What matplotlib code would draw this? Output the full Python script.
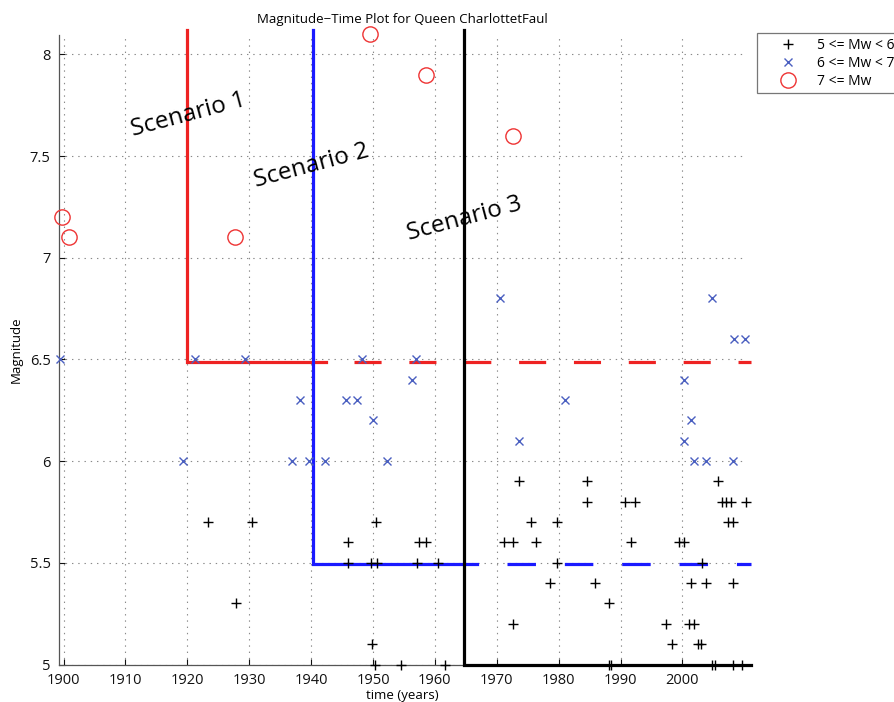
import matplotlib
matplotlib.use("Agg")
import matplotlib.pyplot as plt

plt.rcParams['font.family'] = ['Open Sans', 'DejaVu Sans']
plt.rcParams['lines.scale_dashes'] = False

# Earthquake catalogue: 5 <= Mw < 6
plus_years = [1923.3, 1930.5, 1927.8, 1945.9, 1945.9, 1949.7, 1950.7, 1950.5, 1949.8,
              1950.4, 1954.5, 1957.5, 1958.5, 1957.1, 1960.5, 1961.7, 1971.2, 1972.7,
              1972.7, 1973.6, 1975.5, 1976.3, 1978.6, 1979.7, 1979.8, 1984.6, 1984.6,
              1985.9, 1988.1, 1988.1, 1988.4, 1990.7, 1991.7, 1992.4, 1997.3, 1998.3,
              1999.4, 2000.2, 2001.05, 2001.4, 2001.9, 2002.45, 2003.0, 2003.1, 2003.75,
              2004.8, 2005.2, 2005.7, 2006.4, 2007.1, 2007.3, 2007.9, 2008.1, 2008.2,
              2008.2, 2009.6, 2010.2]
plus_mags = [5.7, 5.7, 5.3, 5.6, 5.5, 5.5, 5.5, 5.7, 5.1,
             5.0, 5.0, 5.6, 5.6, 5.5, 5.5, 5.0, 5.6, 5.6,
             5.2, 5.9, 5.7, 5.6, 5.4, 5.7, 5.5, 5.9, 5.8,
             5.4, 5.3, 5.0, 5.0, 5.8, 5.6, 5.8, 5.2, 5.1,
             5.6, 5.6, 5.2, 5.4, 5.2, 5.1, 5.1, 5.5, 5.4,
             5.0, 5.0, 5.9, 5.8, 5.8, 5.7, 5.8, 5.7, 5.4,
             5.0, 5.0, 5.8]

# 6 <= Mw < 7
cross_years = [1899.5, 1919.3, 1921.2, 1929.3, 1936.9, 1938.2, 1939.7, 1942.2, 1945.6,
               1947.4, 1948.2, 1949.95, 1952.2, 1956.25, 1956.9, 1970.6, 1973.6, 1981.0,
               2000.2, 2000.2, 2001.35, 2001.9, 2003.75, 2004.7, 2008.2, 2008.3, 2010.1]
cross_mags = [6.5, 6.0, 6.5, 6.5, 6.0, 6.3, 6.0, 6.0, 6.3,
              6.3, 6.5, 6.2, 6.0, 6.4, 6.5, 6.8, 6.1, 6.3,
              6.4, 6.1, 6.2, 6.0, 6.0, 6.8, 6.0, 6.6, 6.6]

# 7 <= Mw
circle_years = [1899.7, 1900.9, 1927.7, 1949.5, 1958.6, 1972.6]
circle_mags = [7.2, 7.1, 7.1, 8.1, 7.9, 7.6]

# Scenario boundaries: (start year, magnitude threshold, end of solid part, start of dashed part)
scen1 = dict(year=1920.0, mag=6.485, solid_end=1942.4, dash_start=1946.9)
scen2 = dict(year=1940.3, mag=5.495, solid_end=1966.8, dash_start=1971.6)
scen3_year = 1964.7
line_top = 8.12
line_right = 2011.0

xticks = [1900, 1910, 1920, 1930, 1940, 1950, 1960, 1970, 1980, 1990, 2000]
yticks = [5, 5.5, 6, 6.5, 7, 7.5, 8]
ytick_labels = ['5', '5.5', '6', '6.5', '7', '7.5', '8']

fig = plt.figure(figsize=(8.94, 7.02), dpi=100)
ax = fig.add_axes([0.066, 0.0534, 0.768, 0.8967])
ax.set_xlim(1899.27, 2010.2)
ax.set_ylim(5, 8.095)

ax.set_xticks(xticks)
ax.set_xticklabels([str(t) for t in xticks])
ax.set_yticks(yticks)
ax.set_yticklabels(ytick_labels)
ax.tick_params(direction='in', length=4, width=0.8, labelsize=10.5, colors='#111111')
ax.tick_params(axis='x', pad=6)
ax.tick_params(axis='y', pad=6)
ax.grid(True, linestyle=(0, (1, 3.5)), color='#8a8a8a', linewidth=0.8)
ax.set_axisbelow(True)
for side in ('top', 'right'):
    ax.spines[side].set_visible(False)
for side in ('left', 'bottom'):
    ax.spines[side].set_color('#555555')
    ax.spines[side].set_linewidth(0.9)

lw = 2.3
# Scenario 1 (red)
ax.plot([scen1['year'], scen1['year'], scen1['solid_end']],
        [line_top, scen1['mag'], scen1['mag']], color='#ee2222', lw=lw,
        clip_on=False, zorder=3, solid_joinstyle='miter')
ax.plot([scen1['dash_start'], line_right], [scen1['mag'], scen1['mag']],
        color='#ee2222', lw=lw, linestyle=(0, (19.5, 20.0)), clip_on=False, zorder=3)
# Scenario 2 (blue)
ax.plot([scen2['year'], scen2['year'], scen2['solid_end']],
        [line_top, scen2['mag'], scen2['mag']], color='#1a1aff', lw=lw,
        clip_on=False, zorder=3, solid_joinstyle='miter')
ax.plot([scen2['dash_start'], line_right], [scen2['mag'], scen2['mag']],
        color='#1a1aff', lw=lw, linestyle=(0, (20.5, 20.8)), clip_on=False, zorder=3)
# Scenario 3 (black)
ax.plot([scen3_year, scen3_year, line_right], [line_top, 5.0, 5.0],
        color='black', lw=lw, clip_on=False, zorder=3, solid_joinstyle='miter')

# Events
ax.plot(plus_years, plus_mags, linestyle='none', marker='+', markersize=6.5,
        markeredgewidth=1.0, color='black', clip_on=False, zorder=4, label='5 <= Mw < 6')
ax.plot(cross_years, cross_mags, linestyle='none', marker='x', markersize=5.5,
        markeredgewidth=1.0, color='#4a5fc0', clip_on=False, zorder=4, label='6 <= Mw < 7')
ax.plot(circle_years, circle_mags, linestyle='none', marker='o', markersize=11,
        markerfacecolor='none', markeredgewidth=1.0, markeredgecolor='#ee3333',
        clip_on=False, zorder=4, label='7 <= Mw')

# Scenario annotations
ax.text(1920.2, 7.70, 'Scenario 1', fontsize=17.5, rotation=15, ha='center', va='center')
ax.text(1940.1, 7.45, 'Scenario 2', fontsize=17.5, rotation=15, ha='center', va='center')
ax.text(1964.8, 7.19, 'Scenario 3', fontsize=17.5, rotation=15, ha='center', va='center')

ax.set_title('Magnitude\u2212Time Plot for Queen CharlottetFaul', fontsize=9.5, pad=9)
ax.set_xlabel('time (years)', fontsize=9.5, labelpad=1)
ax.set_ylabel('Magnitude', fontsize=9.5, labelpad=5)

leg = fig.legend(loc='upper left', bbox_to_anchor=(0.847, 0.953), fontsize=10,
                 frameon=True, fancybox=False, borderaxespad=0, handlelength=3.8,
                 borderpad=0.33, labelspacing=0.22, handletextpad=0.15)
leg.get_frame().set_edgecolor('#555555')
leg.get_frame().set_linewidth(0.9)

fig.savefig('out.png', dpi=100)
